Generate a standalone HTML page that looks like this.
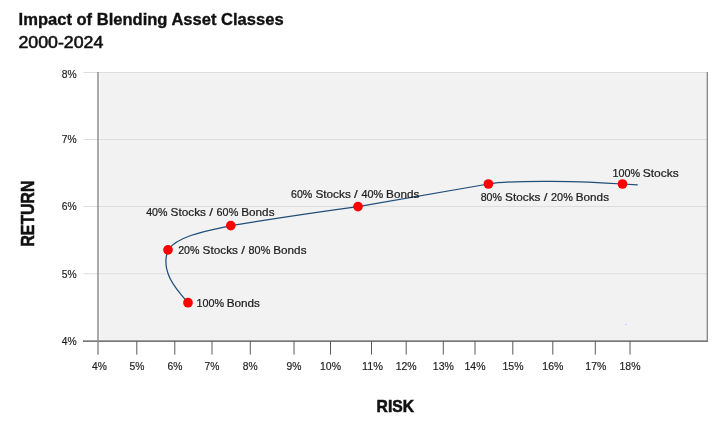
<!DOCTYPE html>
<html>
<head>
<meta charset="utf-8">
<title>Impact of Blending Asset Classes</title>
<style>
html,body{margin:0;padding:0;background:#ffffff;}
body{width:720px;height:424px;overflow:hidden;font-family:"Liberation Sans",sans-serif;}
svg{display:block;will-change:transform;}
text{font-family:"Liberation Sans",sans-serif;fill:#1f1f1f;}
.b{font-weight:bold;fill:#111111;stroke:#111111;stroke-width:0.35px;}
.t{font-size:11px;fill:#1c1c1c;stroke:#1c1c1c;stroke-width:0.18px;}
.l{font-size:11.4px;fill:#141414;stroke:#141414;stroke-width:0.22px;}
</style>
</head>
<body>
<svg width="720" height="424" viewBox="0 0 720 424">
  <!-- titles -->
  <text class="b" x="18.6" y="25" font-size="16.4" textLength="265" lengthAdjust="spacingAndGlyphs">Impact of Blending Asset Classes</text>
  <text x="18.4" y="47.5" font-size="16.4" textLength="85" lengthAdjust="spacingAndGlyphs" style="fill:#111111;stroke:#111111;stroke-width:0.55px">2000-2024</text>

  <!-- plot area -->
  <rect x="99.6" y="72" width="607.9" height="269" fill="#f2f2f2"/>
  <!-- gridlines with ticks -->
  <g stroke="#dddddd" stroke-width="1">
    <line x1="83.4" y1="72.5" x2="707" y2="72.5"/>
    <line x1="83.4" y1="139.5" x2="707" y2="139.5"/>
    <line x1="83.4" y1="206.5" x2="707" y2="206.5"/>
    <line x1="83.4" y1="273.8" x2="707" y2="273.8"/>
  </g>
  <!-- axes -->
  <line x1="83" y1="341.15" x2="708" y2="341.15" stroke="#4a4a4a" stroke-width="1.1"/>
  <line x1="98" y1="72" x2="98" y2="354.7" stroke="#8c8c8c" stroke-width="1.5"/>
  <line x1="707.3" y1="72" x2="707.3" y2="341.5" stroke="#7a7a7a" stroke-width="1.2"/>
  <!-- x ticks -->
  <g stroke="#5a5a5a" stroke-width="1">
    <line x1="136.8" y1="341" x2="136.8" y2="354.6"/>
    <line x1="174.8" y1="341" x2="174.8" y2="354.6"/>
    <line x1="212" y1="341" x2="212" y2="354.6"/>
    <line x1="250.3" y1="341" x2="250.3" y2="354.6"/>
    <line x1="294" y1="341" x2="294" y2="354.6"/>
    <line x1="330.5" y1="341" x2="330.5" y2="354.6"/>
    <line x1="371.5" y1="341" x2="371.5" y2="354.6"/>
    <line x1="406.2" y1="341" x2="406.2" y2="354.6"/>
    <line x1="443.3" y1="341" x2="443.3" y2="354.6"/>
    <line x1="475" y1="341" x2="475" y2="354.6"/>
    <line x1="512.8" y1="341" x2="512.8" y2="354.6"/>
    <line x1="552.8" y1="341" x2="552.8" y2="354.6"/>
    <line x1="595.3" y1="341" x2="595.3" y2="354.6"/>
    <line x1="630" y1="341" x2="630" y2="354.6"/>
  </g>
  <!-- y labels -->
  <g class="t" text-anchor="middle">
    <text x="69.2" y="78.2" textLength="14.9" lengthAdjust="spacingAndGlyphs">8%</text>
    <text x="69.2" y="143" textLength="14.9" lengthAdjust="spacingAndGlyphs">7%</text>
    <text x="69.2" y="209.9" textLength="14.9" lengthAdjust="spacingAndGlyphs">6%</text>
    <text x="69.2" y="278" textLength="14.9" lengthAdjust="spacingAndGlyphs">5%</text>
    <text x="69.2" y="344.7" textLength="14.9" lengthAdjust="spacingAndGlyphs">4%</text>
  </g>
  <!-- x labels -->
  <g class="t" text-anchor="middle">
    <text x="99.5" y="370" textLength="14.9" lengthAdjust="spacingAndGlyphs">4%</text>
    <text x="137" y="370" textLength="14.9" lengthAdjust="spacingAndGlyphs">5%</text>
    <text x="175" y="370" textLength="14.9" lengthAdjust="spacingAndGlyphs">6%</text>
    <text x="212" y="370" textLength="14.9" lengthAdjust="spacingAndGlyphs">7%</text>
    <text x="250.3" y="370" textLength="14.9" lengthAdjust="spacingAndGlyphs">8%</text>
    <text x="294" y="370" textLength="14.9" lengthAdjust="spacingAndGlyphs">9%</text>
    <text x="330.5" y="370" textLength="21" lengthAdjust="spacingAndGlyphs">10%</text>
    <text x="372.5" y="370" textLength="21" lengthAdjust="spacingAndGlyphs">11%</text>
    <text x="406.2" y="370" textLength="21" lengthAdjust="spacingAndGlyphs">12%</text>
    <text x="443.3" y="370" textLength="21" lengthAdjust="spacingAndGlyphs">13%</text>
    <text x="475" y="370" textLength="21" lengthAdjust="spacingAndGlyphs">14%</text>
    <text x="513" y="370" textLength="21" lengthAdjust="spacingAndGlyphs">15%</text>
    <text x="552.8" y="370" textLength="21" lengthAdjust="spacingAndGlyphs">16%</text>
    <text x="595.8" y="370" textLength="21" lengthAdjust="spacingAndGlyphs">17%</text>
    <text x="630" y="370" textLength="21" lengthAdjust="spacingAndGlyphs">18%</text>
  </g>
  <!-- axis titles -->
  <text class="b" x="376.6" y="412" font-size="16.4" textLength="37.4" lengthAdjust="spacingAndGlyphs" style="stroke-width:0.55px">RISK</text>
  <text class="b" transform="translate(33.8 246.6) rotate(-90)" font-size="17.6" textLength="66" lengthAdjust="spacingAndGlyphs" style="stroke-width:0.55px">RETURN</text>

  <rect x="625" y="324" width="1.6" height="0.7" fill="#aab4ff" opacity="0.8"/>
  <!-- curve -->
  <path d="M188 302.7 C174.9 288.1 160.3 271 168 249.9 C178.6 234.5 213.6 229.8 230.9 225.6 C273.3 218.7 315.6 212.3 358 206.6 L488.4 184 C515 179.6 585 181.2 622.5 184 L637.7 184.9" fill="none" stroke="#1f4e79" stroke-width="1.25" stroke-linejoin="round"/>
  <!-- points -->
  <g fill="#ff0000">
    <circle cx="188" cy="302.7" r="4.85"/>
    <circle cx="168" cy="249.9" r="4.85"/>
    <circle cx="230.8" cy="225.6" r="4.85"/>
    <circle cx="358" cy="206.6" r="4.85"/>
    <circle cx="488.4" cy="184" r="4.85"/>
    <circle cx="622.5" cy="184" r="4.85"/>
  </g>
  <!-- point labels -->
  <g class="l">
    <text x="196.4" y="307.3" textLength="27.6" lengthAdjust="spacingAndGlyphs">100%</text>
    <text x="226.7" y="307.3" textLength="33.3" lengthAdjust="spacingAndGlyphs">Bonds</text>
    <text x="178.2" y="253.9" textLength="21.3" lengthAdjust="spacingAndGlyphs">20%</text>
    <text x="202.6" y="253.9" textLength="35.4" lengthAdjust="spacingAndGlyphs">Stocks</text>
    <text x="241.3" y="253.9" textLength="3.7" lengthAdjust="spacingAndGlyphs">/</text>
    <text x="248.6" y="253.9" textLength="21.7" lengthAdjust="spacingAndGlyphs">80%</text>
    <text x="273.3" y="253.9" textLength="33.2" lengthAdjust="spacingAndGlyphs">Bonds</text>
    <text x="146.2" y="215.9" textLength="21.3" lengthAdjust="spacingAndGlyphs">40%</text>
    <text x="170.6" y="215.9" textLength="35.4" lengthAdjust="spacingAndGlyphs">Stocks</text>
    <text x="209.3" y="215.9" textLength="3.7" lengthAdjust="spacingAndGlyphs">/</text>
    <text x="216.6" y="215.9" textLength="21.7" lengthAdjust="spacingAndGlyphs">60%</text>
    <text x="241.3" y="215.9" textLength="33.2" lengthAdjust="spacingAndGlyphs">Bonds</text>
    <text x="291.0" y="198" textLength="21.3" lengthAdjust="spacingAndGlyphs">60%</text>
    <text x="315.4" y="198" textLength="35.4" lengthAdjust="spacingAndGlyphs">Stocks</text>
    <text x="354.1" y="198" textLength="3.7" lengthAdjust="spacingAndGlyphs">/</text>
    <text x="361.4" y="198" textLength="21.7" lengthAdjust="spacingAndGlyphs">40%</text>
    <text x="386.1" y="198" textLength="33.2" lengthAdjust="spacingAndGlyphs">Bonds</text>
    <text x="480.7" y="201.2" textLength="21.3" lengthAdjust="spacingAndGlyphs">80%</text>
    <text x="505.1" y="201.2" textLength="35.4" lengthAdjust="spacingAndGlyphs">Stocks</text>
    <text x="543.8" y="201.2" textLength="3.7" lengthAdjust="spacingAndGlyphs">/</text>
    <text x="551.1" y="201.2" textLength="21.7" lengthAdjust="spacingAndGlyphs">20%</text>
    <text x="575.8" y="201.2" textLength="33.2" lengthAdjust="spacingAndGlyphs">Bonds</text>
    <text x="612.4" y="176.6" textLength="27.6" lengthAdjust="spacingAndGlyphs">100%</text>
    <text x="642.7" y="176.6" textLength="36" lengthAdjust="spacingAndGlyphs">Stocks</text>
  </g>
</svg>
</body>
</html>
